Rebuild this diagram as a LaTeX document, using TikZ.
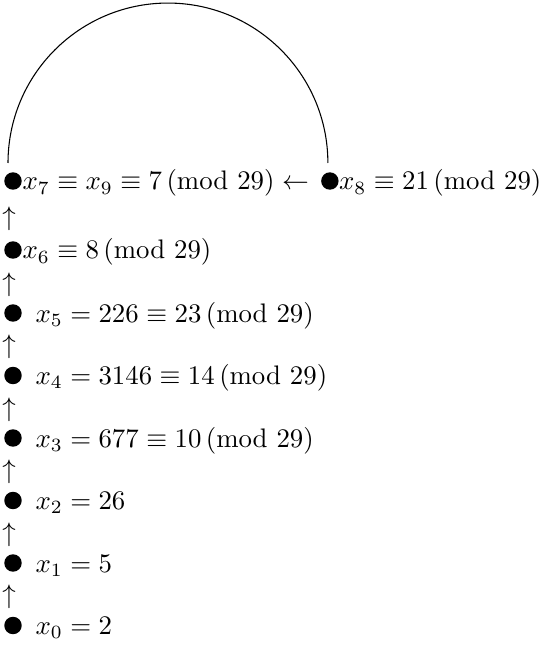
\documentclass[tikz,border=0pt]{standalone}
\usepackage{amsmath}
\usetikzlibrary{calc}
\newcommand{\md}[1]{\,(\mathrm{mod}\mkern6mu #1)}
\begin{document}
\begin{tikzpicture}[x=0.373pt,y=-0.373pt,
  dot/.style={circle,fill=black,inner sep=0pt,minimum size=6.5pt},
  lbl/.style={anchor=base west,inner sep=0pt},
  uparr/.style={inner sep=0pt}]
\useasboundingbox (0,0) rectangle (539,649);
% top row
\node[dot] (b7) at (13,181) {};
\node[lbl] (t7) at (22,190) {$x_7\equiv x_9\equiv 7\md{29}\leftarrow$};
\node[dot] (b8) at ($(t7.base east)+(20.5,-9)$) {};
\node[lbl] (t8) at ($(b8.center)+(8.7,9)$) {$x_8\equiv 21\md{29}$};
% column
\node[dot] (b6) at (13,250) {};
\node[lbl] (t6) at (22,259) {$x_6\equiv 8\md{29}$};
\node[dot] (b5) at (13,313) {};
\node[lbl] (t5) at (35,322) {$x_5=226\equiv 23\md{29}$};
\node[dot] (b4) at (13,375.5) {};
\node[lbl] (t4) at (35,384.5) {$x_4=3146\equiv 14\md{29}$};
\node[dot] (b3) at (13,438) {};
\node[lbl] (t3) at (35,447) {$x_3=677\equiv 10\md{29}$};
\node[dot] (b2) at (13,500.5) {};
\node[lbl] (t2) at (35,509.5) {$x_2=26$};
\node[dot] (b1) at (13,563) {};
\node[lbl] (t1) at (35,572) {$x_1=5$};
\node[dot] (b0) at (13,625.5) {};
\node[lbl] (t0) at (35,634.5) {$x_0=2$};
% up arrows
\foreach \a/\b/\n in {b6/b7/u6,b5/b6/u5,b4/b5/u4,b3/b4/u3,b2/b3/u2,b1/b2/u1,b0/b1/u0}
  \node[uparr] (\n) at ($($(\a)!0.5!(\b)$)+(-4,3)$) {$\uparrow$};
% arc
\coordinate (a7) at ($(b7.center)+(-5,-18)$);
\coordinate (a8) at ($(b8.center)+(-2,-18)$);
\draw[line width=0.4pt] let \p1=(a7), \p2=(a8) in
  (a7) arc[start angle=180,end angle=0,radius={(\x2-\x1)/2}];
\end{tikzpicture}
\end{document}
